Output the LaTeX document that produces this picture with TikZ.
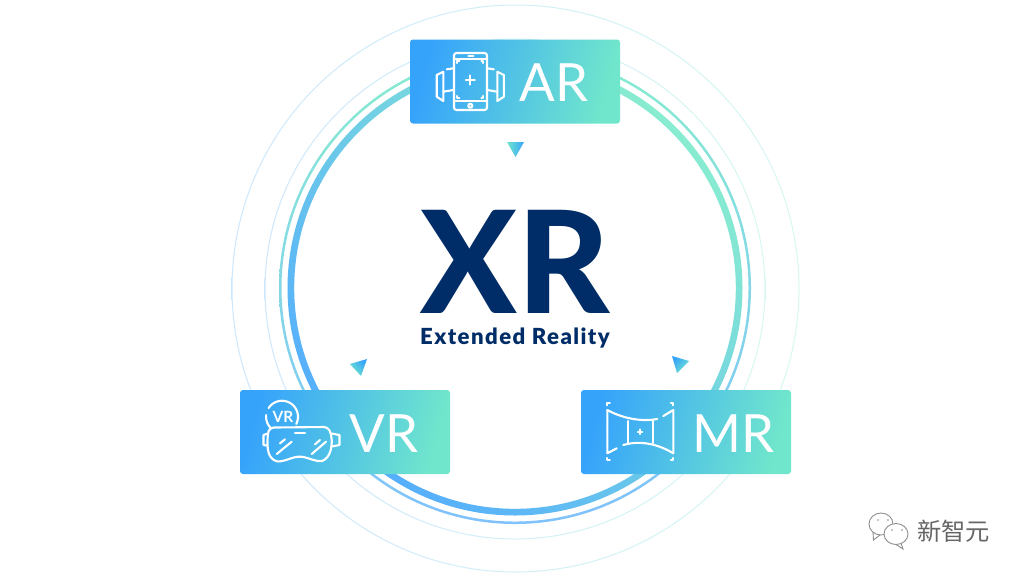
\documentclass[tikz,border=0pt]{standalone}
\usepackage{fontspec}
\setmainfont{Lato}
\newfontfamily\cjk{Noto Sans CJK SC}
\newfontfamily\xrfont{Lato Heavy}
\newfontfamily\subfont[LetterSpace=6.5]{Lato Black}
\definecolor{xrblue}{HTML}{36A3FB}
\definecolor{xrteal}{HTML}{70E6CC}
\definecolor{xrnavy}{HTML}{002D67}
\definecolor{ringblue}{HTML}{55AEFC}
\definecolor{ringteal}{HTML}{88ECD0}
\definecolor{faintblue}{HTML}{CDE7FD}
\definecolor{faintteal}{HTML}{D6F8F2}
\tikzset{
    xrbox/.style={shade, left color=xrblue, right color=xrteal, shading angle=75,
        rounded corners=.3mm, minimum width=2.1cm, minimum height=.84cm, inner sep=0pt},
    boxlabel/.style={anchor=base, text=white, inner sep=0pt, font=\fontsize{15}{16}\selectfont},
    iconline/.style={white, line width=.6pt, line cap=round, line join=round},
    chatline/.style={draw=black!45, fill=white, line width=.25pt},
}
\begin{document}
\begin{tikzpicture}[x=.1mm, y=-.1mm]
    \useasboundingbox (0,0) rectangle (1024,576);
    \fill[white] (0,0) rectangle (1024,576);

    \shade[even odd rule, left color=faintblue, right color=faintteal] (515.5,288.5) circle (284) circle (283);
    \shade[even odd rule, left color=faintblue, right color=faintteal] (515,289) circle (250.5) circle (249.5);
    \shade[even odd rule, top color=ringteal, bottom color=ringblue!75!white] (515,288) circle (236) circle (233.5);
    \shade[even odd rule, left color=ringblue, right color=ringteal, shading angle=135] (515,288) circle (227.5) circle (220.8);

    \node[xrbox] (ar) at (515,81.5) {};
    \node[xrbox] (vr) at (345,432) {};
    \node[xrbox] (mr) at (686,432) {};

    \shade[left color=xrteal, right color=xrblue] (507,142) -- (524,142) -- (515.5,157) -- cycle;
    \shade[left color=xrblue, right color=xrteal, shading angle=-45] (350,364) -- (367,359) -- (361,376) -- cycle;
    \shade[left color=xrblue, right color=xrteal, shading angle=45] (672,356) -- (689,361) -- (677,373) -- cycle;

    \node[anchor=base, inner sep=0pt, text=xrnavy, font=\xrfont\fontsize{40.5}{42}\selectfont] (xrtitle) at (515,313) {XR};
    \node[anchor=base, inner sep=0pt, text=xrnavy, font=\subfont\fontsize{6.3}{7}\selectfont] (xrsub) at (515,344) {Extended Reality};

    \node[boxlabel] (arlabel) at (554,101) {AR};
    \node[boxlabel] (vrlabel) at (384,452) {VR};
    \node[boxlabel] (mrlabel) at (733.5,452) {MR};

    \draw[iconline, rounded corners=.25mm] (454,53) rectangle (487,110);
    \draw[iconline] (454,59.3) -- (487,59.3) (454,100.7) -- (487,100.7) (468.3,55.7) -- (473.3,55.7);
    \draw[iconline] (470.3,105.7) circle (2);
    \draw[iconline] (465.8,80) -- (474.8,80) (470.3,75.5) -- (470.3,84.5);
    \foreach \sgn in {1,-1}{
        \begin{scope}[shift={(470.3,0)}, xscale=\sgn]
            \draw[iconline] (-17,68.3) -- (-23.5,69.3);
            \draw[iconline] (-27,71.7) -- (-27,101) -- (-33.6,96.7) -- (-33.6,75) -- cycle;
            \draw[iconline] (-27,91.7) -- (-17,90);
            \draw[iconline] (-13,63) -- (-13,61.3) -- (-11,61.3);
            \draw[iconline] (-13,96) -- (-13,97.7) -- (-11,97.7);
        \end{scope}
    }

    \draw[iconline] (274,427.5) .. controls (268,428) and (268,432) .. (267.5,440)
        .. controls (267,453) and (270,460) .. (278,461.5)
        .. controls (288,461) and (292,456) .. (301.7,456.7)
        .. controls (310,458) and (316,462) .. (322,461)
        .. controls (330,458) and (332,448) .. (331.7,440)
        .. controls (331,431) and (329,427.5) .. (324,427) -- cycle;
    \draw[iconline] (268,433.5) -- (263.5,435) -- (263.5,445) -- (267.5,445.7);
    \draw[iconline] (331.7,433.5) -- (339.5,435) -- (339.5,445) -- (331.7,446.5);
    \draw[iconline] (295,432.7) -- (305,432.7);
    \draw[iconline] (280,443.3) -- (285,439.3) (276.7,454) -- (291.7,441.7);
    \draw[iconline] (315,444.3) -- (320,440) (311.7,454) -- (326,441.7);
    \draw[iconline] (268.6,408) arc (213:387:16);
    \draw[iconline] (266.1,415) arc (186:131.5:16);
    \node[anchor=base, inner sep=0pt, text=white, font=\fontsize{4.4}{5}\selectfont\bfseries] (vricon) at (283,422.5) {VR};

    \draw[iconline] (607.3,410) .. controls (622,418) and (640,422) .. (657.3,419);
    \draw[iconline] (663.3,416) -- (673.3,410) -- (673.3,453.3);
    \draw[iconline] (607.3,410) -- (607.3,453.3) -- (616.7,448.3);
    \draw[iconline] (623.3,445) .. controls (640,440) and (658,444) .. (673.3,453.3);
    \draw[iconline] (628.3,421) -- (628.3,443) (652.7,421) -- (652.7,443);
    \draw[iconline] (640,429.5) -- (640,434) (637.8,431.7) -- (642.2,431.7);
    \foreach \cx/\cy/\dx/\dy in {607.3/403.3/1/1, 673.3/403.3/-1/1, 607.3/460/1/-1, 673.3/460/-1/-1}{
        \draw[iconline] (\cx,\cy+\dy*2) -- (\cx,\cy) -- (\cx+\dx*2.5,\cy);
    }

    \draw[chatline] (873,532) -- (873.5,540) -- (880,535);
    \draw[chatline] (881,524) ellipse (12 and 11);
    \draw[chatline] (901,543) -- (903,549) -- (896,544.5);
    \draw[chatline] (896,534) ellipse (12 and 10.5);
    \fill[black!45] (878,520) circle (.9) (888,520) circle (.9) (892,530) circle (.9) (902,530) circle (.9);
    \node[anchor=center, text=black!60, font=\cjk\fontsize{6.9}{8}\selectfont] (wechat) at (953.5,531) {新智元};
\end{tikzpicture}
\end{document}
